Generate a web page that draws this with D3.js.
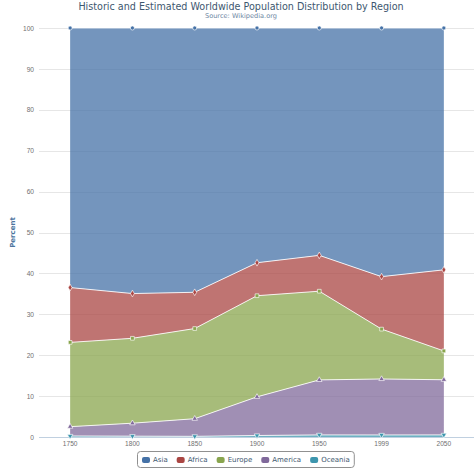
<!DOCTYPE html>
<html>
<head>
<meta charset="utf-8">
<title>Population distribution by region</title>
<script src="https://cdnjs.cloudflare.com/ajax/libs/d3/7.8.5/d3.min.js"></script>
<style>
    body { margin: 0; background: #fff; }
    svg { font-family: "DejaVu Sans", Verdana, sans-serif; }
    .grid line { stroke: #e6e6e6; stroke-width: 1px; }
    .tick-label { fill: #707070; font-size: 6.6px; }
</style>
</head>
<body>
<div id="chart"></div>
<script>

// years on the x axis (categories)
var years = ["1750", "1800", "1850", "1900", "1950", "1999", "2050"];

// population in millions, per region
var asia    = [502, 635, 809, 947, 1402, 3634, 5268];
var africa  = [106, 107, 111, 133, 221, 767, 1766];
var europe  = [163, 203, 276, 408, 547, 729, 628];
var america = [18, 31, 54, 156, 339, 818, 1201];
var oceania = [2, 2, 2, 6, 13, 30, 46];

var yTicks = [0, 10, 20, 30, 40, 50, 60, 70, 80, 90, 100];

var regions = ["Asia", "Africa", "Europe", "America", "Oceania"];
var colors  = ["#4572A7", "#AA4643", "#89A54E", "#80699B", "#3D96AE"];
var symbols = [d3.symbolCircle, d3.symbolDiamond, d3.symbolSquare, d3.symbolTriangle, d3.symbolTriangle];

var width = 474, height = 471;
var plotLeft = 39, plotRight = 475, plotTop = 28, plotBottom = 437;

var rows = years.map(function(y, i) {
    return { year: y, Asia: asia[i], Africa: africa[i], Europe: europe[i],
             America: america[i], Oceania: oceania[i] };
});

// stack bottom-up: Oceania first, Asia on top
var stackKeys = regions.slice().reverse();
var series = d3.stack()
    .keys(stackKeys)
    .offset(d3.stackOffsetExpand)(rows);

var x = d3.scaleBand().domain(years).range([plotLeft, plotRight]).padding(0);
var cx = function(d) { return x(d) + x.bandwidth() / 2; };
var y = d3.scaleLinear().domain([0, 100]).range([plotBottom, plotTop]);

var svg = d3.select("#chart").append("svg")
    .attr("width", width)
    .attr("height", height);

// title
svg.append("text")
    .attr("x", 241).attr("y", 10)
    .attr("text-anchor", "middle")
    .style("font-size", "9.6px")
    .style("fill", "#3E576F")
    .text("Historic and Estimated Worldwide Population Distribution by Region");

svg.append("text")
    .attr("x", 241).attr("y", 18)
    .attr("text-anchor", "middle")
    .style("font-size", "6.6px")
    .style("fill", "#6D869F")
    .text("Source: Wikipedia.org");

// grid lines
svg.append("g").attr("class", "grid")
    .selectAll("line")
    .data(yTicks.slice(1))
    .enter().append("line")
    .attr("x1", plotLeft).attr("x2", width)
    .attr("y1", function(d) { return Math.round(y(d)) + 0.5; })
    .attr("y2", function(d) { return Math.round(y(d)) + 0.5; });

// y axis
var yAxis = svg.append("g")
    .attr("transform", "translate(" + (plotLeft - 5) + ",0)")
    .call(d3.axisLeft(y).tickValues(yTicks).tickSize(0).tickPadding(0));
yAxis.select(".domain").remove();
yAxis.selectAll("text").attr("class", "tick-label").attr("dy", "0.32em");

svg.append("text")
    .attr("transform", "translate(15," + ((plotTop + plotBottom) / 2) + ") rotate(-90)")
    .attr("text-anchor", "middle")
    .style("font-size", "7px")
    .style("font-weight", "bold")
    .style("fill", "#4D759E")
    .text("Percent");

// areas
var area = d3.area()
    .x(function(d) { return cx(d.data.year); })
    .y0(function(d) { return y(d[0] * 100); })
    .y1(function(d) { return y(d[1] * 100); });

var topLine = d3.line()
    .x(function(d) { return cx(d.data.year); })
    .y(function(d) { return y(d[1] * 100); });

function colorOf(key) { return colors[regions.indexOf(key)]; }

svg.append("g").selectAll("path")
    .data(series)
    .enter().append("path")
    .attr("d", area)
    .style("fill", function(s) { return colorOf(s.key); })
    .style("fill-opacity", 0.75);

// x axis line
svg.append("line")
    .attr("x1", plotLeft).attr("x2", width)
    .attr("y1", plotBottom + 0.5).attr("y2", plotBottom + 0.5)
    .style("stroke", "#C0D0E0");

svg.append("g").selectAll("path")
    .data(series)
    .enter().append("path")
    .attr("d", topLine)
    .style("fill", "none")
    .style("stroke", "#ffffff")
    .style("stroke-opacity", 0.85)
    .style("stroke-width", 1);

// markers
var markerGroups = svg.append("g").selectAll("g")
    .data(series)
    .enter().append("g");

markerGroups.selectAll("path")
    .data(function(s) { return s.map(function(p) { return { p: p, key: s.key }; }); })
    .enter().append("path")
    .attr("transform", function(d) {
        return "translate(" + cx(d.p.data.year) + "," + y(d.p[1] * 100) + ")" +
            (d.key === "Oceania" ? " rotate(180)" : "");
    })
    .attr("d", function(d) {
        var i = regions.indexOf(d.key);
        return d3.symbol().type(symbols[i]).size(i === 2 ? 14 : 13)();
    })
    .style("fill", function(d) { return colorOf(d.key); })
    .style("stroke", "#fff")
    .style("stroke-opacity", 0.8)
    .style("stroke-width", 0.8);

// x axis labels
var xAxis = svg.append("g")
    .attr("transform", "translate(0," + plotBottom + ")")
    .call(d3.axisBottom(x).tickSize(0).tickPadding(4));
xAxis.select(".domain").remove();
xAxis.selectAll("text").attr("class", "tick-label");

// legend
var legend = svg.append("g");
var lx = 142, ly = 460;
var items = legend.selectAll("g")
    .data(regions)
    .enter().append("g");

items.append("text")
    .style("font-size", "7px")
    .style("fill", "#3E576F")
    .attr("dy", "0.35em")
    .text(function(d) { return d; });

items.each(function(d, i) {
    var g = d3.select(this);
    var w = g.select("text").node().getComputedTextLength();
    g.attr("transform", "translate(" + lx + "," + ly + ")");
    g.insert("rect", "text")
        .attr("x", 0).attr("y", -3)
        .attr("width", 8).attr("height", 6)
        .attr("rx", 2)
        .style("fill", colors[i]);
    g.select("text").attr("x", 11);
    lx += 11 + w + 9;
});

legend.insert("rect", "g")
    .attr("x", 137.5).attr("y", 451.5)
    .attr("width", lx - 137 - 5).attr("height", 16)
    .attr("rx", 3)
    .style("fill", "#fff")
    .style("stroke", "#909090")
    .style("stroke-width", 1);

</script>
</body>
</html>
